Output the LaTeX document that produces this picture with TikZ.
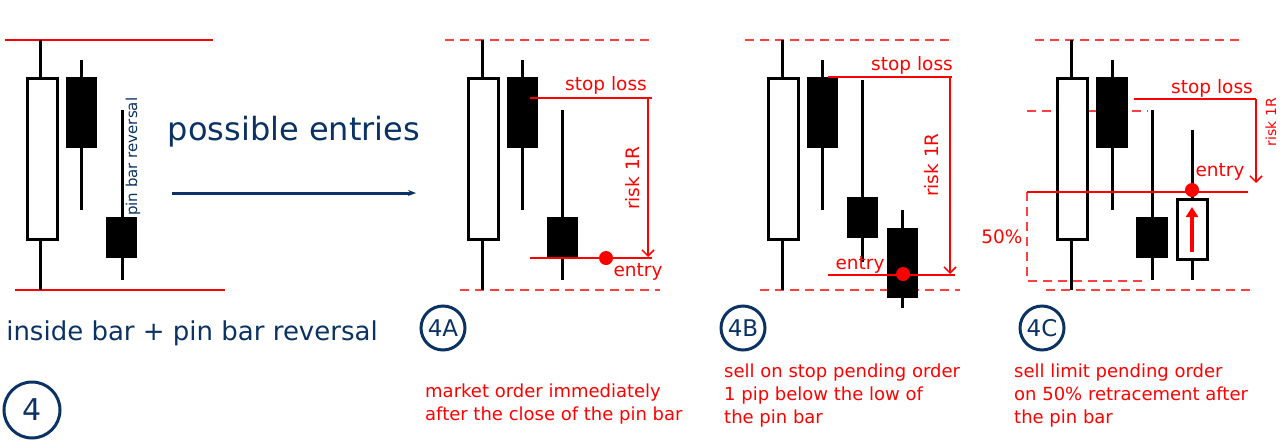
\documentclass[tikz,border=0pt]{standalone}
\usepackage{fontspec}
\setmainfont{DejaVu Sans}
\usetikzlibrary{arrows.meta}
\definecolor{navy}{RGB}{10,50,100}
\tikzset{
  wick/.style={line width=3pt, black},
  bull/.style={line width=3pt, draw=black, fill=white},
  bear/.style={fill=black},
  level/.style={line width=2.5pt, red},
  dlevel/.style={line width=2.5pt, red!75, dash pattern=on 9pt off 6pt},
  redtext/.style={text=red, font=\fontsize{18.5}{22}\selectfont},
  note/.style={text=red, font=\fontsize{18}{23}\selectfont, align=left, anchor=north west, inner sep=0pt},
  tag/.style={circle, draw=navy, line width=3pt, minimum size=44pt, text=navy, font=\fontsize{23}{26}\selectfont, inner sep=0pt},
  dot/.style={circle, fill=red, minimum size=14pt, inner sep=0pt}
}
\begin{document}
\begin{tikzpicture}[x=1pt,y=-1pt]

    % Page frame
    \useasboundingbox (0,0) rectangle (1285,445);

    % ---- Panel 4: the setup ----
    \draw[level] (5,40) -- (213,40);
    \draw[level] (15,290) -- (225,290);
    \draw[wick] (40,40) -- (40,290);
    \draw[bull] (27,78) rectangle (57,239);
    \draw[wick] (81,60) -- (81,210);
    \fill[bear] (66,77) rectangle (97,148);
    \draw[wick] (122,110) -- (122,280);
    \fill[bear] (106,217) rectangle (137,258);
    \node[rotate=90, anchor=west, text=navy, font=\fontsize{15}{17}\selectfont, inner sep=0pt] (pinlbl) at (133,216) {pin bar reversal};

    % Title and arrow
    \node[text=navy, font=\fontsize{32}{36}\selectfont] (title) at (294,132) {possible entries};
    \coordinate (arrS) at (172,193);
    \coordinate (arrE) at (416,193);
    \draw[navy, line width=3pt, -{Stealth[length=8pt]}] (arrS) -- (arrE);
    \node[text=navy, font=\fontsize{26}{30}\selectfont] (setup) at (192,333) {inside bar + pin bar reversal};
    \node[tag, minimum size=56pt, font=\fontsize{30}{34}\selectfont] (t4) at (32,410) {4};

    % ---- Panel 4A ----
    \draw[dlevel] (445,40) -- (650,40);
    \draw[dlevel] (460,290) -- (660,290);
    \draw[wick] (482,40) -- (482,290);
    \draw[bull] (468,78) rectangle (498,239);
    \draw[wick] (522,60) -- (522,210);
    \fill[bear] (507,77) rectangle (538,148);
    \draw[wick] (562,110) -- (562,280);
    \fill[bear] (547,217) rectangle (578,258);
    \draw[level] (530,98) -- (652,98);
    \node[redtext] (slA) at (606,85) {stop loss};
    \draw[red, line width=1.5pt, -{Straight Barb[length=6pt]}] (648,98) -- (648,257);
    \node[redtext, rotate=90] (rA) at (633,178) {risk 1R};
    \draw[level] (530,258) -- (652,258);
    \node[dot] (eA) at (606,258) {};
    \node[redtext] (enA) at (638,272) {entry};
    \node[tag] (t4A) at (443,328) {4A};
    \node[note] (nA) at (425,384) {market order immediately\\after the close of the pin bar};

    % ---- Panel 4B ----
    \draw[dlevel] (745,40) -- (950,40);
    \draw[dlevel] (760,290) -- (960,290);
    \draw[wick] (782,40) -- (782,290);
    \draw[bull] (768,78) rectangle (798,239);
    \draw[wick] (822,60) -- (822,210);
    \fill[bear] (807,77) rectangle (838,148);
    \draw[wick] (862,80) -- (862,262);
    \fill[bear] (847,197) rectangle (878,238);
    \draw[wick] (902,210) -- (902,308);
    \fill[bear] (887,228) rectangle (918,298);
    \draw[level] (828,77) -- (952,77);
    \node[redtext] (slB) at (912,65) {stop loss};
    \draw[red, line width=1.5pt, -{Straight Barb[length=6pt]}] (950,77) -- (950,274);
    \node[redtext, rotate=90] (rB) at (932,165) {risk 1R};
    \draw[level] (828,275) -- (955,275);
    \node[dot] (eB) at (903,274) {};
    \node[redtext] (enB) at (860,265) {entry};
    \node[tag] (t4B) at (743,328) {4B};
    \node[note] (nB) at (724,364) {sell on stop pending order\\1 pip below the low of\\the pin bar};

    % ---- Panel 4C ----
    \draw[dlevel] (1035,40) -- (1240,40);
    \draw[dlevel] (1027,111) -- (1148,111);
    \draw[dlevel] (1046,290) -- (1250,290);
    \draw[dlevel] (1027,192) -- (1027,281) -- (1148,281);
    \draw[wick] (1071,40) -- (1071,290);
    \draw[bull] (1057,78) rectangle (1087,239);
    \draw[wick] (1112,60) -- (1112,210);
    \fill[bear] (1096,77) rectangle (1128,148);
    \draw[wick] (1152,110) -- (1152,280);
    \fill[bear] (1136,217) rectangle (1168,258);
    \draw[wick] (1192,130) -- (1192,280);
    \draw[bull] (1177,199) rectangle (1207,259);
    \draw[red, line width=4pt, -{Triangle[length=10pt,width=12pt]}] (1192,252) -- (1192,207);
    \draw[level] (1134,99) -- (1256,99);
    \node[redtext] (slC) at (1212,88) {stop loss};
    \draw[red, line width=1.5pt, -{Straight Barb[length=6pt]}] (1256,99) -- (1256,183);
    \node[redtext, font=\fontsize{14}{16}\selectfont, rotate=90] (rC) at (1271,122) {risk 1R};
    \draw[level] (1027,192) -- (1248,192);
    \node[dot] (eC) at (1192,190) {};
    \node[redtext] (enC) at (1220,172) {entry};
    \node[redtext] (pct) at (1002,237) {50\%};
    \node[tag] (t4C) at (1042,328) {4C};
    \node[note] (nC) at (1014,364) {sell limit pending order\\on 50\% retracement after\\the pin bar};

\end{tikzpicture}
\end{document}
